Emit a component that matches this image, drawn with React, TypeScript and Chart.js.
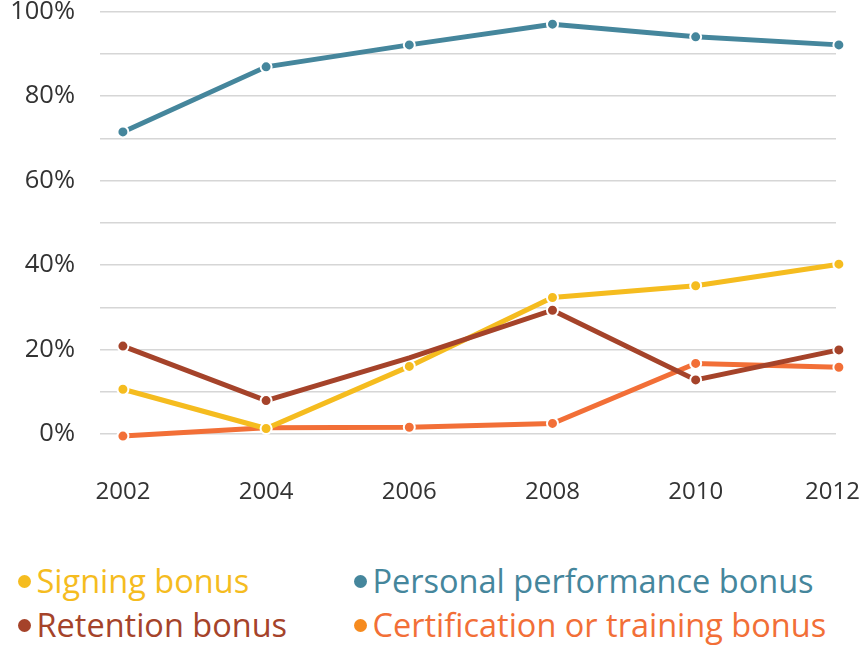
import React, { useEffect, useRef } from "react";
import { Chart, registerables } from "chart.js";

Chart.register(...registerables);

const years = [2002, 2004, 2006, 2008, 2010, 2012];
const yTicks = [0, 10, 20, 30, 40, 50, 60, 70, 80, 90, 100];
const signing = [10.6, 1.3, 16.0, 32.3, 35.1, 40.2];
const personal = [71.5, 86.9, 92.1, 97.0, 94.0, 92.1];
const retention = [20.8, 7.9, 18.0, 29.3, 12.8, 19.9];
const certification = [-0.5, 1.5, 1.6, 2.5, 16.7, 15.8];
const retentionMarkers = [1, 1, 0, 1, 1, 1];

const seriesNames = [
  "Signing bonus",
  "Personal performance bonus",
  "Retention bonus",
  "Certification or training bonus",
];

const C_SIGN = "#F5BC1F";
const C_PERS = "#45869C";
const C_RET = "#A5432A";
const C_CERT = "#F26F37";

const FONT = "'Open Sans', 'Noto Sans', sans-serif";

const zeroPad = (s: any) => {
  s.paddingLeft = 0;
  s.paddingRight = 0;
  s.paddingTop = 0;
  s.paddingBottom = 0;
};

export default function App() {
  const ref = useRef<HTMLCanvasElement | null>(null);

  useEffect(() => {
    if (!ref.current) return;
    const mk = (label: string, data: number[], color: string, order: number, radii?: number[]) => ({
      label,
      data: years.map((x, i) => ({ x, y: data[i] })),
      borderColor: color,
      backgroundColor: color,
      borderWidth: 5,
      pointRadius: radii ? radii.map((r) => (r ? 5.5 : 0)) : 5.5,
      pointBorderColor: "#ffffff",
      pointBorderWidth: 2,
      pointBackgroundColor: color,
      tension: 0,
      clip: false as any,
      order,
    });
    const chart = new Chart(ref.current, {
      type: "line",
      data: {
        datasets: [
          mk(seriesNames[0], signing, C_SIGN, 1),
          mk(seriesNames[1], personal, C_PERS, 3),
          mk(seriesNames[2], retention, C_RET, 0, retentionMarkers),
          mk(seriesNames[3], certification, C_CERT, 2),
        ] as any,
      },
      options: {
        animation: false,
        responsive: false,
        maintainAspectRatio: false,
        layout: { padding: { top: 11.5, right: 28, left: 0, bottom: 0 } },
        plugins: { legend: { display: false }, tooltip: { enabled: false } },
        scales: {
          x: {
            type: "linear",
            min: 2001.68,
            max: 2011.96,
            afterBuildTicks: (s: any) => {
              s.ticks = years.map((v) => ({ value: Math.min(v, s.max - 0.05) }));
            },
            afterFit: (s: any) => {
              s.height = 96;
              zeroPad(s);
            },
            grid: { display: false, drawTicks: false },
            border: { display: false },
            ticks: {
              autoSkip: false,
              maxRotation: 0,
              padding: 44,
              color: "#333333",
              font: { family: FONT, size: 24 },
              callback: (v: any) => String(Math.round(Number(v))),
            },
          },
          y: {
            min: 0,
            max: 100,
            afterBuildTicks: (s: any) => {
              s.ticks = yTicks.map((v) => ({ value: v }));
            },
            afterFit: (s: any) => {
              s.width = 100;
              zeroPad(s);
            },
            grid: { color: "#d6d6d6", lineWidth: 1.5, drawTicks: false },
            border: { display: false },
            ticks: {
              padding: 25,
              color: "#333333",
              font: { family: FONT, size: 25.5 },
              callback: (v: any) => (Number(v) % 20 === 0 ? v + "%" : ""),
            },
          },
        },
      },
    });
    return () => chart.destroy();
  }, []);

  const legendItem = (text: string, color: string, dot: string, left: number, cy: number) => (
    <div style={{ position: "absolute", left, top: cy - 22, height: 44, display: "flex", alignItems: "center", whiteSpace: "nowrap" }}>
      <span
        style={{
          display: "inline-block",
          width: 13,
          height: 13,
          borderRadius: "50%",
          background: dot,
          marginRight: 6,
          flex: "none",
        }}
      />
      <span style={{ color, fontFamily: FONT, fontSize: 32.5, lineHeight: "44px" }}>{text}</span>
    </div>
  );

  return (
    <div style={{ position: "absolute", left: 0, top: 0, width: 864, height: 649, background: "#fff", overflow: "hidden" }}>
      <canvas ref={ref} width={864} height={530} style={{ position: "absolute", left: 0, top: 0 }} />
      {legendItem(seriesNames[0], C_SIGN, C_SIGN, 17.5, 581)}
      {legendItem(seriesNames[1], C_PERS, C_PERS, 353.5, 581)}
      {legendItem(seriesNames[2], C_RET, C_RET, 17.5, 625)}
      {legendItem(seriesNames[3], C_CERT, "#F68B1F", 353.5, 625)}
    </div>
  );
}
